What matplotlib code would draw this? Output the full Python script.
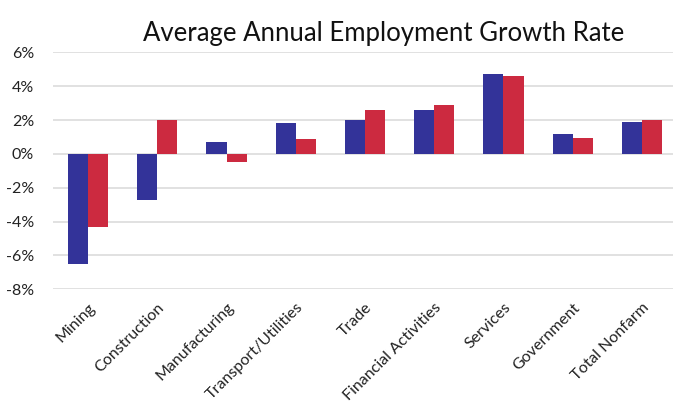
import matplotlib
matplotlib.use("Agg")
import matplotlib.pyplot as plt
import numpy as np
from matplotlib.ticker import FuncFormatter

categories = ["Mining", "Construction", "Manufacturing", "Transport/Utilities", "Trade",
              "Financial Activities", "Services", "Government", "Total Nonfarm"]
series_a = [-6.5, -2.7, 0.7, 1.8, 2.0, 2.6, 4.7, 1.2, 1.9]
series_b = [-4.3, 2.0, -0.5, 0.9, 2.6, 2.9, 4.6, 0.95, 2.0]
yticks = [-8, -6, -4, -2, 0, 2, 4, 6]

plt.rcParams['font.family'] = ['Lato', 'DejaVu Sans']

W, H = 673, 405
fig = plt.figure(figsize=(W/100, H/100), dpi=100)
left, right = 53.4, 676.6
top, bottom = 52.3, 289.3
ax = fig.add_axes([left/W, 1-bottom/H, (right-left)/W, (bottom-top)/H])

x = np.arange(len(categories))
bw = 0.29
ax.bar(x - bw/2, series_a, bw, color="#333399", zorder=3)
ax.bar(x + bw/2, series_b, bw, color="#CC2A40", zorder=3)

ax.set_xlim(-0.5, len(categories) - 0.5)
ax.set_ylim(-8, 6)
ax.set_yticks(yticks)
ax.yaxis.set_major_formatter(FuncFormatter(lambda v, p: f"{v:.0f}%"))
ax.grid(axis='y', color="#dcdcdc", linewidth=1.2, zorder=0)
for s in ax.spines.values():
    s.set_visible(False)
ax.tick_params(axis='both', length=0, labelsize=11.5, colors="#222222")
ax.tick_params(axis='y', pad=14)
ax.set_xticks(x)
ax.set_xticklabels(categories, rotation=45, ha='right', rotation_mode='anchor')
ax.tick_params(axis='x', pad=8)

fig.text(384/W, 1-41/H, "Average Annual Employment Growth Rate", ha='center', va='baseline',
         fontsize=18.5, color="#111111")

fig.savefig("out.png", dpi=100, facecolor='white')
